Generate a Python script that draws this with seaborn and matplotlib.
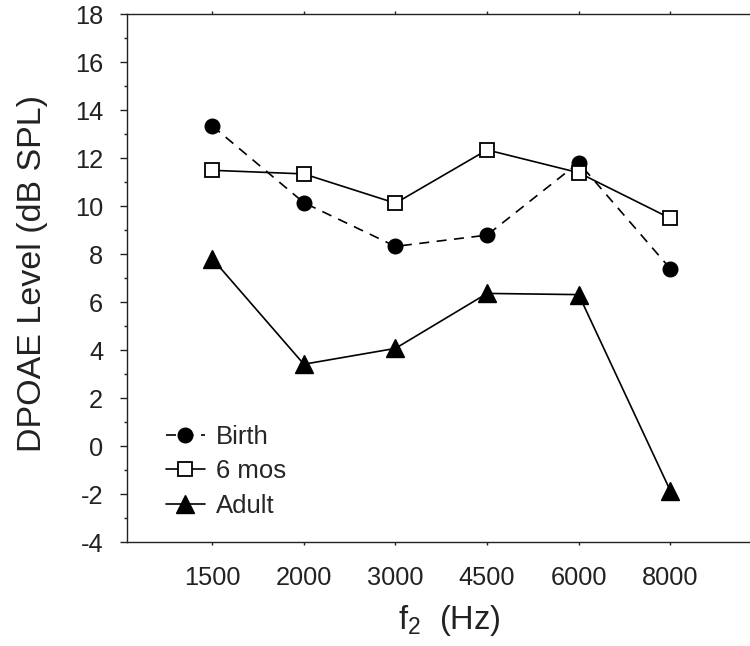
import matplotlib
matplotlib.use("Agg")
import matplotlib.pyplot as plt
import seaborn as sns
import pandas as pd

# ---- data ----
freq_labels = ["1500", "2000", "3000", "4500", "6000", "8000"]
birth = [13.35, 10.15, 8.33, 8.8, 11.82, 7.4]
six_mos = [11.5, 11.35, 10.13, 12.35, 11.4, 9.5]
adult = [7.82, 3.42, 4.08, 6.37, 6.32, -1.85]
series_names = ["Birth", "6 mos", "Adult"]

sns.set_theme(style="ticks")
plt.rcParams["font.family"] = ["Liberation Sans", "DejaVu Sans"]
plt.rcParams["mathtext.default"] = "regular"
plt.rcParams["mathtext.fontset"] = "custom"
plt.rcParams["mathtext.rm"] = "Liberation Sans"
plt.rcParams["mathtext.it"] = "Liberation Sans"

fig = plt.figure(figsize=(7.5, 6.46), dpi=100)
ax = fig.add_axes([126.7 / 750, 1 - 542.3 / 646, 1 - 126.7 / 750, (542.3 - 14.3) / 646])

lw = 1.2
sns.lineplot(x=freq_labels, y=birth, ax=ax, sort=False, color="black",
             linewidth=lw, linestyle=(0, (6, 4.5)), marker="o", markersize=10.5,
             markerfacecolor="black", markeredgecolor="black", markeredgewidth=1,
             label=series_names[0])
sns.lineplot(x=freq_labels, y=six_mos, ax=ax, sort=False, color="black",
             linewidth=lw, linestyle="-", marker="s", markersize=10,
             markerfacecolor="white", markeredgecolor="black", markeredgewidth=1.3,
             label=series_names[1])
sns.lineplot(x=freq_labels, y=adult, ax=ax, sort=False, color="black",
             linewidth=lw, linestyle="-", marker="^", markersize=12.5,
             markerfacecolor="black", markeredgecolor="black", markeredgewidth=1,
             label=series_names[2])

ax.set_ylim(-4, 18)
ax.set_xlim(-0.934, 5.87)
ax.set_yticks(range(-4, 19, 2))
ax.set_yticks(range(-3, 18, 2), minor=True)
ax.set_yticklabels([str(v) for v in range(-4, 19, 2)])

for side in ["left", "bottom", "top"]:
    ax.spines[side].set_visible(True)
    ax.spines[side].set_linewidth(1.0)
    ax.spines[side].set_color("#222222")
ax.spines["right"].set_visible(False)

ax.tick_params(axis="y", which="major", direction="out", length=5, width=1,
               pad=12, labelsize=18.3, colors="#222222")
ax.tick_params(axis="y", which="minor", direction="out", length=2.5, width=1, colors="#222222")
ax.tick_params(axis="x", which="major", direction="out", length=2.2, width=1,
               pad=15, labelsize=18.3, top=True, labeltop=False, colors="#222222")
ax.set_xlabel("")
ax.set_ylabel("")

fig.text(33 / 750, 1 - 273 / 646, "DPOAE Level (dB SPL)", rotation=90,
         ha="center", va="center", fontsize=24.5, color="#222222")
fig.text(449 / 750, 1 - 620 / 646, r"$f_2$  (Hz)", ha="center", va="center",
         fontsize=23.5, color="#222222")

handles, labels = ax.get_legend_handles_labels()
ax.legend(handles, labels, loc="upper left", bbox_to_anchor=(166 / 750, 1 - 425 / 646),
          bbox_transform=fig.transFigure, frameon=False, fontsize=18.5,
          handlelength=1.5, handletextpad=0.45, labelspacing=0.4, borderpad=0,
          borderaxespad=0)

fig.savefig("out.png", dpi=100, facecolor="white")
